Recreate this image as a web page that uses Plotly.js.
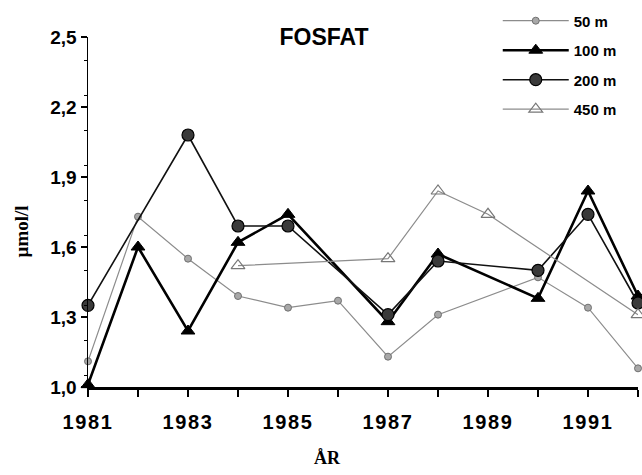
<!DOCTYPE html>
<html>
<head>
<meta charset="utf-8">
<script src="https://cdn.plot.ly/plotly-3.0.1.min.js"></script>
<style>
  html, body { margin: 0; padding: 0; background: #fff; }
  #chart { width: 642px; height: 475px; }
  /* widely spaced year labels */
  #chart .xtick text { letter-spacing: 1.6px; }
</style>
</head>
<body>
<div id="chart"></div>
<script>
// Phosphate concentration (µmol/l) by year at four depths
const years50   = [1981, 1982, 1983, 1984, 1985, 1986, 1987, 1988, 1990, 1991, 1992];
const values50  = [1.11, 1.73, 1.55, 1.39, 1.34, 1.37, 1.13, 1.31, 1.47, 1.34, 1.08];

const years100  = [1981, 1982, 1983, 1984, 1985, 1987, 1988, 1990, 1991, 1992];
const values100 = [1.01, 1.60, 1.24, 1.62, 1.74, 1.28, 1.57, 1.38, 1.84, 1.39];

const years200  = [1981, 1983, 1984, 1985, 1987, 1988, 1990, 1991, 1992];
const values200 = [1.35, 2.08, 1.69, 1.69, 1.31, 1.54, 1.50, 1.74, 1.36];

const years450  = [1984, 1987, 1988, 1989, 1992];
const values450 = [1.52, 1.55, 1.84, 1.74, 1.31];

const depthNames = ['50 m', '100 m', '200 m', '450 m'];

const sans = 'Liberation Sans, Arial, sans-serif';
const serif = 'Liberation Serif, Times New Roman, serif';

const traces = [
  {
    x: years50, y: values50, name: depthNames[0], legendgroup: 'd50',
    mode: 'lines+markers', cliponaxis: false,
    line: { color: '#8c8c8c', width: 1.2 },
    marker: { symbol: 'circle', size: 7, color: '#a8a8a8', line: { color: '#707070', width: 1 } }
  },
  {
    x: years100, y: values100, name: depthNames[1], legendgroup: 'd100',
    mode: 'lines+markers', cliponaxis: false,
    line: { color: '#000', width: 2.6 },
    marker: { symbol: 'triangle-up', size: 12, color: '#000', line: { color: '#000', width: 1 } }
  },
  {
    x: years200, y: values200, name: depthNames[2], legendgroup: 'd200',
    mode: 'lines+markers', cliponaxis: false,
    line: { color: '#111', width: 1.6 },
    marker: { symbol: 'circle', size: 12, color: '#3a3a3a', line: { color: '#000', width: 1.2 } }
  },
  {
    x: years450, y: values450, name: depthNames[3], legendgroup: 'd450',
    mode: 'lines+markers', cliponaxis: false,
    line: { color: '#8c8c8c', width: 1.2 },
    marker: { symbol: 'triangle-up-open', size: 12, color: '#777', line: { color: '#777', width: 1.2 } }
  }
];

const layout = {
  width: 642, height: 475,
  margin: { l: 88, r: 4, t: 34, b: 88 },
  paper_bgcolor: '#fff', plot_bgcolor: '#fff',
  separators: ',.',
  showlegend: true,
  title: {
    text: 'FOSFAT',
    font: { family: sans, size: 23, weight: 'bold', color: '#000' },
    x: 324 / 642, xanchor: 'center', xref: 'container',
    y: 1 - 37 / 475, yanchor: 'middle', yref: 'container'
  },
  legend: {
    x: 0.745, xanchor: 'left', y: 1.093, yanchor: 'top',
    bgcolor: 'rgba(0,0,0,0)', borderwidth: 0,
    tracegroupgap: 7, itemwidth: 66,
    font: { family: sans, size: 15, weight: 'bold', color: '#000' }
  },
  xaxis: {
    range: [1981, 1992],
    showgrid: false, zeroline: false,
    showline: true, linecolor: '#000', linewidth: 3,
    ticks: 'outside', ticklen: 7, tickwidth: 1.5, tickcolor: '#000',
    tick0: 1981, dtick: 2, ticklabelstandoff: 8,
    minor: { dtick: 1, ticks: 'outside', ticklen: 7, tickwidth: 1.5, tickcolor: '#000' },
    tickfont: { family: sans, size: 20, weight: 'bold', color: '#000' }
  },
  yaxis: {
    range: [1, 2.5],
    showgrid: false, zeroline: false,
    showline: true, linecolor: '#000', linewidth: 1.5,
    ticks: 'outside', ticklen: 6, tickwidth: 1.5, tickcolor: '#000',
    tick0: 1, dtick: 0.3, tickformat: '.1f',
    minor: { dtick: 0.15, ticks: 'outside', ticklen: 3, tickwidth: 1.5, tickcolor: '#000' },
    tickfont: { family: sans, size: 19, weight: 'bold', color: '#000' }
  },
  annotations: [
    {
      text: 'µmol/l', xref: 'paper', yref: 'paper',
      x: (22 - 88) / 550, y: (387 - 230) / 353.4,
      xanchor: 'center', yanchor: 'middle', showarrow: false, textangle: -90,
      font: { family: serif, size: 19, weight: 'bold', color: '#000' }
    },
    {
      text: 'ÅR', xref: 'paper', yref: 'paper',
      x: (327 - 88) / 550, y: (387 - 459) / 353.4,
      xanchor: 'center', yanchor: 'middle', showarrow: false,
      font: { family: serif, size: 18, weight: 'bold', color: '#000' }
    }
  ]
};

Plotly.newPlot('chart', traces, layout, { displayModeBar: false, staticPlot: true });
</script>
</body>
</html>
